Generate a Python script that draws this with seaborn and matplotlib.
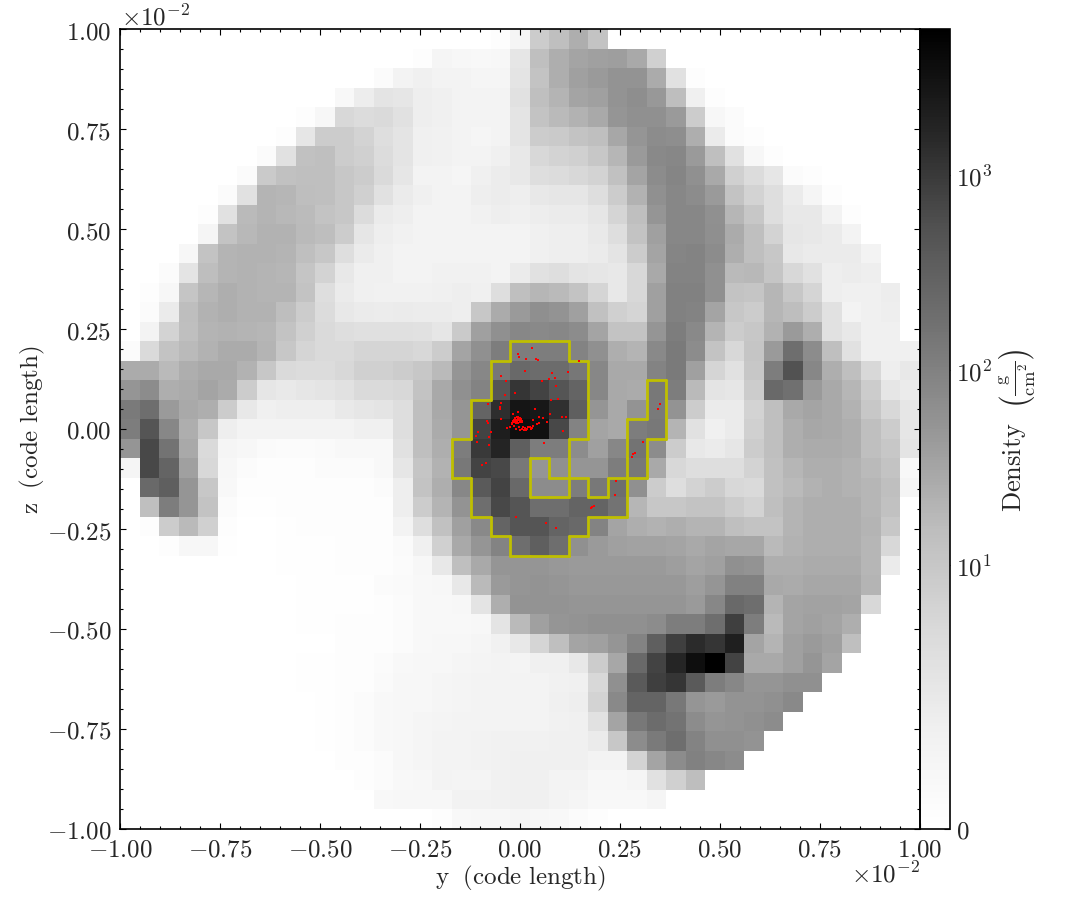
import numpy as np
import pandas as pd
import matplotlib
matplotlib.use("Agg")
import matplotlib.pyplot as plt
from matplotlib.colors import SymLogNorm
from matplotlib.collections import LineCollection
from matplotlib.ticker import MultipleLocator, FixedLocator
import seaborn as sns

sns.set_style("ticks")
plt.rcParams["mathtext.fontset"] = "cm"
plt.rcParams["font.family"] = ["DejaVu Serif"]

# Projected density (g/cm^2) per cell, top row first, left column first
density_rows = [
    [0]*19 + [.4,1.5,8,14,24,12] + [0]*16,
    [0]*15 + [.4,1.5,1.2,1,1.3,3.3,14,24,32,37,39,28,6.9] + [0]*13,
    [0]*13 + [.7,1.8,2.3,1.9,1.8,1.5,1.5,3.5,12,24,37,43,54,54,26,3.8,.3] + [0]*11,
    [0]*11 + [1,2.6,3.5,3.3,2.5,2.3,1.9,1.8,1.8,3.8,14,20,32,37,54,66,47,15,2.3,.4] + [0]*10,
    [0]*9 + [.3,1.3,5,4.2,4.5,3.8,2.5,2.3,1.9,1.9,1.9,3.5,12,17,22,28,50,60,60,43,8,1.3,.7] + [0]*9,
    [0]*8 + [.3,3.3,8,8,6.2,4.1,3.5,2.3,2.1,1.8,1.5,1.8,3.5,8,9,12,14,30,50,70,66,24,2.8,.7,.4] + [0]*8,
    [0]*7 + [.6,3.7,13,14,8,6.9,4.2,3.5,2.3,2.1,1.8,1.8,2.3,3.1,5,6.2,6.9,10,19,43,75,82,43,14,3.8,1.3,.4] + [0]*7,
    [0]*6 + [.6,9,13,14,14,10,8,4.5,3.3,1.9,1.8,1.5,2.3,2.7,3.1,4.1,4.2,5,6.2,13,32,70,88,60,28,6.9,4.2,3.3,.6,.3] + [0]*5,
    [0]*5 + [.7,3.8,20,19,15,14,10,6.9,3.8,2.8,2.3,1.9,1.8,2.5,2.7,2.5,3.1,3.3,3.3,4.1,8,22,60,82,70,43,12,6.2,4.1,2.8,1.5,.4] + [0]*4,
    [0]*4 + [.3,3.7,17,20,18,16,12,10,4.2,2.8,2.5,1.9,1.8,1.8,2.1,2.5,2.3,2.6,2.8,2.8,3.3,5.6,14,50,82,82,60,19,10,4.1,3.1,3.1,1.8,.4] + [0]*3,
    [0]*4 + [1.5,12,18,22,22,17,15,8,3.3,2.5,2.1,1.9,1.8,1.8,1.8,1.9,1.8,2.3,2.5,2.5,3,4.1,12,37,82,82,64,26,14,6.2,3.3,3.1,2.8,1.9] + [0]*3,
    [0]*3 + [1.2,12,20,22,22,20,14,10,4.1,2.8,2.3,1.8,1.8,1.9,1.9,1.8,1.9,1.8,2.3,2.5,2.5,2.8,3.5,8,32,88,95,70,24,14,10,3.1,2.8,2.8,2.8,1.8] + [0]*2,
    [0]*2 + [.7,3.5,15,20,22,20,19,11,6.2,3.1,2.3,2.3,1.8,1.8,2.1,2.1,2.1,1.8,2.8,3.8,4.1,3.5,3.3,3.1,5,28,95,95,60,17,18,11,5,3.8,2.5,2.7,2.5] + [0]*2,
    [0]*1 + [.3,1.2,11,19,24,22,20,20,12,4.1,2.8,2.3,2.1,2.1,2.1,2.3,2.5,2.3,4.1,14,19,17,12,5.6,3.1,5,37,102,102,60,12,11,19,10,5.6,2.5,2.3,2.3,2.6] + [0]*1,
    [0]*1 + [.7,2.8,15,22,24,22,22,15,8,4.2,3.1,2.8,2.7,2.8,2.7,2.7,2.5,10,26,43,64,54,37,13,6.9,5.6,37,102,95,32,10,8,19,15,8,3.8,1.9,2.3,2.5] + [0]*1,
    [0]*1 + [1.8,6.2,14,20,22,20,19,12,6.9,4.5,4.1,3.9,3.9,3.9,3.8,3.3,9,37,60,82,75,82,70,32,12,12,50,115,75,20,8,10,22,43,24,3.8,3.1,2.3,2.3] + [0]*1,
    [.7,4.5,12,17,22,26,26,20,10,5.6,4.5,4.5,5.6,5.6,5.6,5,8,32,60,115,115,115,115,95,60,24,20,75,128,70,12,5,11,43,190,70,14,3.8,2.3,2.3,2.3],
    [26,26,17,24,28,28,22,10,4.5,4.2,4.2,5,6.9,6.9,8,10,17,50,82,145,230,205,205,145,82,28,28,95,128,37,5.6,3.8,10,115,520,82,24,14,5,2.5,3.1],
    [50,70,24,26,32,26,8,3.3,3,3.3,3.5,3.8,4.5,4.5,5,12,28,60,95,470,1120,770,470,275,82,28,26,135,115,17,3.5,3.3,8,230,178,43,28,19,8,3.3,2.8],
    [128,190,43,28,24,8,3.1,2.3,2.5,2.5,2.5,3,3.3,3.5,4.1,14,28,50,275,1330,2800,2500,1250,330,50,28,54,128,54,8,2.8,2.8,6.2,14,28,32,28,22,10,5,3.3],
    [115,470,82,24,10,2.5,1.8,1.8,1.8,1.8,1.8,1.8,2.3,2.3,4.1,14,26,50,770,2100,3500,3200,660,95,32,28,115,135,20,3.8,2.3,2.8,6.9,14,24,30,28,24,14,8,3.3],
    [50,660,160,28,4.5,1.5,1.2,.8,.7,.7,.8,1,1,1,3.8,14,24,115,1000,1760,330,115,115,70,37,82,160,70,8,3.1,2.8,3.3,8,14,24,26,26,24,14,10,3.5],
    [1.5,660,275,37,5,1.2,.7,.4,.4,.4,.7,.7,.7,1,3.3,11,22,135,770,660,135,50,60,50,50,115,135,28,5,4.1,4.1,4.1,6.2,13,19,24,24,22,17,12,1],
    [0,230,330,50,10,1,.4,.3,.3,.4,.4,.4,.3,.7,2.5,12,24,82,400,770,230,70,70,115,135,190,60,8,4.1,6.2,8,5,4.5,13,17,22,24,22,19,14,1.5],
    [0,14,115,50,12,.7,.2,.2,.3,.3,.3,.3,.3,.4,2.5,8,20,54,190,660,470,190,190,275,275,160,19,10,10,12,12,8,6.2,14,20,24,24,24,19,13,0],
    [0,.3,8,17,6.9,.4,0,0,.2,.3,.3,.3,.3,.4,1.8,4.1,13,37,75,275,470,470,275,230,95,32,24,22,24,20,20,14,12,12,20,24,24,24,20,10,0],
    [0,0,.3,1.3,1.3,.2,0,0,.2,.2,.2,.3,.3,.4,.8,2.3,6.9,28,50,95,190,330,190,60,43,37,35,35,32,28,32,30,30,17,22,24,24,24,19,5,0],
    [0,0,0,.1,.1,.1,.1,.1,.2,.2,.2,.3,.3,.4,.7,1.2,3.1,14,28,50,50,50,47,43,43,43,43,43,39,32,37,60,54,24,24,26,26,26,19,2.8,0],
    [0,0,0,.1,.1,.1,.1,.1,.1,.2,.2,.2,.2,.7,.8,1,1.2,3.1,17,43,50,54,50,47,47,47,47,47,47,39,50,102,102,28,26,30,30,30,20,0,0],
    [0]*5 + [.1,.1,.1,.1,.2,.2,.2,.2,.4,.7,1,1,1.2,3.5,24,54,54,54,50,50,50,50,50,50,43,82,230,190,20,32,35,35,32,5,0,0],
    [0]*5 + [.1,.1,.1,.1,.2,.2,.3,.3,.3,.7,1,1,1,1.2,3.5,17,37,50,54,60,60,60,70,115,115,190,880,115,17,32,37,32,24,0,0,0],
    [0]*7 + [.1,.1,.1,.1,.3,.4,.4,.7,1,1.2,1.2,1.5,2.1,3.1,5.6,14,32,37,50,95,330,880,1450,1120,2000,32,20,37,43,37,14,0,0,0],
    [0]*8 + [.1,.2,.2,.3,.3,.7,1,1.2,1.3,1.5,1.7,1.8,1.7,2.3,2.3,3.1,8,30,230,770,1680,3500,5600,770,28,28,37,50,32] + [0]*4,
    [0]*8 + [.1,.2,.2,.3,.4,.8,1.2,1.3,1.5,1.7,1.8,1.8,1.8,1.9,2.1,2.3,5,60,400,880,1120,400,115,82,50,50,60,60] + [0]*5,
    [0]*9 + [.1,.2,.3,.7,1,1.2,1.3,1.5,1.7,1.8,1.8,1.9,1.9,2.3,2.5,6.2,75,275,275,135,50,43,54,54,60,75] + [0]*6,
    [0]*9 + [.1,.2,.3,.7,1,1.2,1.5,1.7,1.8,1.8,1.8,1.9,1.9,2.1,2.3,3.8,32,135,205,160,70,50,54,60,70] + [0]*7,
    [0]*10 + [.2,.4,.7,1,1.3,1.5,1.8,1.9,2,2.1,2.1,2.1,2.3,2.3,2.8,10,70,128,190,95,60,60,54] + [0]*8,
    [0]*11 + [.3,.4,.7,1.2,1.5,1.8,1.9,2,2.1,2.3,2.3,2.3,2.3,1.8,1.8,6.2,32,70,102,82,70] + [0]*9,
    [0]*12 + [.3,.7,1,1.3,1.9,1.7,1.7,2.1,2.3,2.3,1.8,1.8,1.3,1.3,1.5,3.7,6.9,15] + [0]*11,
    [0]*13 + [1,1.2,1.3,1.3,2,2,2.1,2.3,2.3,1.8,1.5,1,1,1,1.5] + [0]*13,
    [0]*16 + [.4,1,1.2,1.2,1.5,1.2,1,.7,.4] + [0]*16,
]

# Cells enclosed by the yellow contour: row index -> column indices
contour_cells = {
    16: [20, 21, 22],
    17: [19, 20, 21, 22, 23],
    18: [19, 20, 21, 22, 23, 27],
    19: [18, 19, 20, 21, 22, 23, 27],
    20: [18, 19, 20, 21, 22, 23, 26, 27],
    21: [17, 18, 19, 20, 21, 22, 26],
    22: [17, 18, 19, 20, 22, 26],
    23: [18, 19, 20, 23, 25],
    24: [18, 19, 20, 21, 22, 23, 24, 25],
    25: [19, 20, 21, 22, 23],
    26: [20, 21, 22],
}

# Particle positions (code length, x 10^-2)
particle_y = [.031,-.004,-.002,.016,.039,.046,.148,.013,.081,.120,-.047,.072,.087,-.035,.054,.090,
              -.012,-.037,.078,.095,-.081,-.048,-.050,-.050,.038,-.004,.076,-.017,.106,.116,.048,-.048,
              .032,.058,-.082,-.080,.068,.048,.107,-.106,-.111,-.073,-.078,-.108,-.078,.060,.308,.288,
              .283,.279,.350,.346,-.094,-.086,.240,.237,.186,.180,.177,-.009,.065,.090,
              -.021,-.018,-.016,-.013,-.008,-.004,0,.003,.006,-.015,-.010,-.003,0,-.008,
              -.019,-.017,-.012,-.006,-.002,.002,.005,-.013,-.006,-.001,-.011,-.005,
              -.015,-.025,-.002,.004,.013,.018,.025,.033,.042,-.032,0,.010,.030,.007,.021,.028,-.010,.015]
particle_z = [.203,.187,.180,.175,.175,.172,.169,.144,.140,.143,.132,.126,.128,.119,.120,.108,
              .089,.085,.073,.074,.063,.065,.054,.050,.051,.043,.038,.037,.031,.031,.030,.024,
              .023,.027,.020,.014,.017,.016,-.006,-.008,-.018,-.008,-.021,-.033,-.041,-.035,-.032,-.060,
              -.063,-.071,.063,.050,-.089,-.086,-.131,-.166,-.192,-.195,-.198,-.220,-.234,-.247,
              .013,.018,.023,.027,.029,.029,.027,.023,.017,.017,.023,.023,.018,.018,
              .015,.021,.025,.028,.028,.025,.020,.020,.023,.020,.014,.014,
              .008,.004,.004,0,.003,0,.004,.007,.013,.003,-.002,-.002,.002,.006,.006,-.001,.001,-.003]

axis_ticks = [-1.0, -0.75, -0.5, -0.25, 0.0, 0.25, 0.5, 0.75, 1.0]
cbar_ticks = [0, 10, 100, 1000]
cbar_labels = [r"$0$", r"$10^{1}$", r"$10^{2}$", r"$10^{3}$"]

W, H = 1085, 920
fig = plt.figure(figsize=(W / 100, H / 100), dpi=100, facecolor="white")
rect = [120 / W, 1 - 830 / H, 800 / W, 800 / H]
ax = fig.add_axes(rect)
cax = fig.add_axes([920 / W, 1 - 830 / H, 30 / W, 800 / H])

density = pd.DataFrame(density_rows)
norm = SymLogNorm(linthresh=4.43, linscale=0.9, vmin=0, vmax=5600, base=10)
sns.heatmap(density, ax=ax, cbar_ax=cax, cmap="Greys", norm=norm,
            xticklabels=False, yticklabels=False, square=False)
ax.set_position(rect)
ax.tick_params(left=False, bottom=False)

# Overlay with real data units for ticks, contour and particles
ov = fig.add_axes(rect, facecolor="none")
ov.set_xlim(-1, 1)
ov.set_ylim(-1, 1)

n = len(density_rows)
edges_x = np.linspace(-1, 1, n + 1)
edges_z = np.linspace(1, -1, n + 1)
inside = {(r, c) for r, cols in contour_cells.items() for c in cols}
segments = []
for r, c in inside:
    x0, x1, z0, z1 = edges_x[c], edges_x[c + 1], edges_z[r], edges_z[r + 1]
    if (r - 1, c) not in inside:
        segments.append([(x0, z0), (x1, z0)])
    if (r + 1, c) not in inside:
        segments.append([(x0, z1), (x1, z1)])
    if (r, c - 1) not in inside:
        segments.append([(x0, z0), (x0, z1)])
    if (r, c + 1) not in inside:
        segments.append([(x1, z0), (x1, z1)])
ov.add_collection(LineCollection(segments, colors=[(0.75, 0.75, 0.0)], linewidths=2.0,
                                 capstyle="round", zorder=3))

particles = pd.DataFrame({"y": particle_y, "z": particle_z})
sns.scatterplot(data=particles, x="y", y="z", ax=ov, color="red", marker="s", s=3.0,
                linewidth=0, zorder=4, legend=False)

for side in ("left", "right", "top", "bottom"):
    ov.spines[side].set_visible(True)
    ov.spines[side].set_color("black")
    ov.spines[side].set_linewidth(1.2)

def fmt(v):
    return rf"${v:.2f}$"

ov.xaxis.set_major_locator(FixedLocator(axis_ticks))
ov.yaxis.set_major_locator(FixedLocator(axis_ticks))
ov.xaxis.set_minor_locator(MultipleLocator(0.05))
ov.yaxis.set_minor_locator(MultipleLocator(0.05))
ov.set_xticklabels([fmt(v) for v in axis_ticks])
ov.set_yticklabels([fmt(v) for v in axis_ticks])
ov.tick_params(which="both", direction="in", top=True, right=True, color="black", width=0.8)
ov.tick_params(which="major", length=4.4, labelsize=18, pad=6)
ov.tick_params(which="minor", length=2.2)

ov.set_xlabel(r"$\mathrm{y\ \ (code\ length)}$", fontsize=18, va="center")
ov.xaxis.set_label_coords(0.5, -0.06)
ov.set_ylabel(r"$\mathrm{z\ \ (code\ length)}$", fontsize=18, va="center")
ov.yaxis.set_label_coords(-0.109, 0.5)

ov.text(0.001, 1.0, r"$\times 10^{-2}$", transform=ov.transAxes, fontsize=18, ha="left", va="bottom")
ov.text(1.0, -0.04, r"$\times 10^{-2}$", transform=ov.transAxes, fontsize=18, ha="right", va="top")

cb = ax.collections[0].colorbar
cb.outline.set_linewidth(1.2)
cb.outline.set_edgecolor("black")
cb.set_ticks(cbar_ticks)
cb.set_ticklabels(cbar_labels)
cb.minorticks_off()
cax.tick_params(which="major", direction="in", right=True, left=False, length=4.4, width=0.8,
                labelsize=18, pad=4)
cb.set_label(r"$\mathrm{Density}\ \ \left(\frac{\mathrm{g}}{\mathrm{cm}^{2}}\right)$", fontsize=19, va="center")
cax.yaxis.set_label_coords((1018 - 920) / 30, 0.5)

fig.savefig("out.png", dpi=100)
